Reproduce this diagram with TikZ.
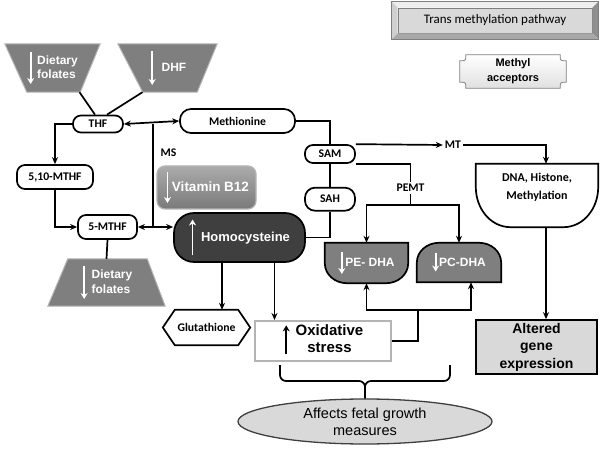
\documentclass[tikz,border=0pt]{standalone}
\usepackage{fontspec}
\setmainfont{Carlito}
\newfontfamily\arialfont{Liberation Sans}
\usetikzlibrary{arrows.meta, positioning, calc, shapes.geometric, backgrounds}
\definecolor{trapgray}{HTML}{7F7F7F}
\definecolor{rimgray}{HTML}{B4B4B4}
\definecolor{hcygray}{HTML}{3F3F3F}
\definecolor{boxgray}{HTML}{D9D9D9}
\definecolor{bevlight}{HTML}{EEEEEE}
\definecolor{bevside}{HTML}{CFCFCF}
\definecolor{bevdark}{HTML}{8F8F8F}
\definecolor{bevlow}{HTML}{A8A8A8}
\definecolor{btop}{HTML}{ABABAB}
\definecolor{bbot}{HTML}{7A7A7A}

\newcommand{\downarr}[2][white]{\tikz[baseline={([yshift=-0.6ex]current bounding box.center)}]
  \draw[-{Stealth[length=6pt,width=7pt]}, line width=1.8pt, #1] (0pt,0pt) -- (0pt,-#2);}
\newcommand{\uparr}[2][white]{\tikz[baseline={([yshift=-0.6ex]current bounding box.center)}]
  \draw[-{Stealth[length=6pt,width=7pt]}, line width=1.8pt, #1] (0pt,0pt) -- (0pt,#2);}

\begin{document}
\begin{tikzpicture}[x=1pt, y=1pt,
  every node/.style = {font=\fontsize{11.7}{13.5}\selectfont\bfseries, inner sep=2pt},
  pill/.style     = {rectangle, draw, fill=white, line width=1.7pt, rounded corners=#1},
  pill/.default   = 8pt,
  whitetxt/.style = {text=white, font=\arialfont\fontsize{12}{14.5}\selectfont\bfseries},
  trap/.style     = {fill=trapgray, draw=rimgray, line width=1pt},
  lipid/.style    = {fill=trapgray, draw=black, line width=1.7pt},
  cup/.style      = {fill=white, draw=black, line width=1.7pt},
  plaque/.style   = {top color=white, bottom color=black!12, draw=trapgray, line width=0.8pt},
  ln/.style       = {line width=1.7pt},
  arr/.style      = {-{Stealth[length=7pt,width=6pt]}, line width=1.7pt},
  arrboth/.style  = {{Stealth[length=7pt,width=6pt]}-{Stealth[length=7pt,width=6pt]}, line width=1.7pt}
]
\useasboundingbox (0,0) rectangle (600,-449);

% legend boxes
\node[minimum width=194pt, minimum height=25pt, fill=boxgray, draw=trapgray, line width=0.6pt,
      font=\fontsize{13}{15}\selectfont] (tmp) at (495,-20.5) {Trans methylation pathway};
\node[font=\arialfont\fontsize{11}{15}\selectfont\bfseries, minimum width=106pt,
      minimum height=33pt, align=center] (acc) at (513,-71.5) {Methyl\\acceptors};

% folate cycle
\node[whitetxt, minimum width=95pt, minimum height=48pt] (folA) at (52.5,-68)
  {\downarr{32pt}\hspace{3pt}\begin{tabular}{@{}l@{}}Dietary\\folates\end{tabular}};
\node[whitetxt, minimum width=99pt, minimum height=48pt] (dhf) at (167.5,-68)
  {\downarr{34pt}\hspace{6pt}DHF};
\node[pill, minimum width=50pt, minimum height=17pt] (thf) at (98,-124) {THF};
\node[pill, minimum width=76pt, minimum height=24pt] (mthfA) at (55,-177) {5,10-MTHF};
\node[pill, minimum width=59pt, minimum height=24pt] (mthfB) at (107.5,-227) {5-MTHF};
\node[whitetxt, minimum width=117pt, minimum height=47pt] (folB) at (106.5,-282.5)
  {\downarr{33pt}\hspace{4pt}\begin{tabular}{@{}l@{}}Dietary\\folates\end{tabular}};

% methionine cycle
\node[pill=11pt, minimum width=115pt, minimum height=24pt] (met) at (237.5,-121) {Methionine};
\node (ms) at (168.5,-153) {MS};
\node[font=\arialfont\fontsize{13.5}{16}\selectfont\bfseries, text=white, minimum width=99pt,
      minimum height=43pt, rounded corners=8pt, top color=btop, bottom color=bbot,
      draw=rimgray, line width=1.2pt] (b12) at (206.5,-187.5) {\downarr{31pt}\hspace{1pt}Vitamin B12};
\node[font=\arialfont\fontsize{13}{16}\selectfont\bfseries, text=white, fill=hcygray, draw=black,
      line width=1.7pt, rounded corners=20pt, minimum width=131pt, minimum height=49pt]
  (hcy) at (239.5,-237.5) {\uparr{36pt}\hspace{5pt}Homocysteine};
\node[pill, minimum width=50pt, minimum height=18pt] (sam) at (330,-154) {SAM};
\node[pill=10pt, minimum width=50pt, minimum height=23pt, below=23pt of sam] (sah) {SAH};

% methylation targets
\node (mt) at (453,-145) {MT};
\node (pemt) at (410.5,-188) {PEMT};
\node[font=\fontsize{12}{18}\selectfont\bfseries, minimum width=122pt, minimum height=47pt,
      align=center] (dna) at (537,-187.5) {DNA, Histone,\\Methylation};
\node[whitetxt, minimum width=83pt, minimum height=40pt] (pe) at (366.5,-263) {\downarr{22pt}PE- DHA};
\node[whitetxt, minimum width=84pt, minimum height=39pt] (pc) at (459,-262.5) {\downarr{18pt}PC-DHA};

% outcomes
\node[minimum width=87pt, minimum height=35pt] (glu) at (206.5,-327.5) {Glutathione};
\node[font=\arialfont\fontsize{15}{17}\selectfont\bfseries, fill=white, draw=rimgray, line width=2pt,
      minimum width=136pt, minimum height=40pt] (ox) at (323,-341)
  {\uparr[black]{29pt}\hspace{6pt}\begin{tabular}{@{}c@{}}Oxidative\\stress\end{tabular}};
\node[font=\arialfont\fontsize{14}{17.5}\selectfont\bfseries, fill=boxgray, draw=black, line width=1.7pt,
      inner sep=0pt, minimum width=121pt, minimum height=54pt, align=center]
  (alt) at (536.5,-347) {Altered\\gene\\expression};
\node[ellipse, fill=boxgray, draw=hcygray, line width=1.3pt, minimum width=254pt, minimum height=45pt,
      inner sep=0pt, font=\arialfont\fontsize{14.5}{17}\selectfont, align=center]
  (fx) at (365,-421.5) {Affects fetal growth\\measures};

% bevel of the legend box
\path[fill=bevlight] ([shift={(-6,6)}]tmp.north west) -- ([shift={(6,6)}]tmp.north east) -- (tmp.north east) -- (tmp.north west) -- cycle;
\path[fill=bevside] ([shift={(-6,6)}]tmp.north west) -- (tmp.north west) -- (tmp.south west) -- ([shift={(-6,-6)}]tmp.south west) -- cycle;
\path[fill=bevdark] ([shift={(6,6)}]tmp.north east) -- ([shift={(6,-6)}]tmp.south east) -- (tmp.south east) -- (tmp.north east) -- cycle;
\path[fill=bevlow] ([shift={(-6,-6)}]tmp.south west) -- (tmp.south west) -- (tmp.south east) -- ([shift={(6,-6)}]tmp.south east) -- cycle;
\draw[trapgray, line width=0.6pt] ([shift={(-6,6)}]tmp.north west) rectangle ([shift={(6,-6)}]tmp.south east);

\begin{scope}[on background layer]
  \path[trap] (folA.north west) -- (folA.north east) -- ([xshift=-20]folA.south east) -- ([xshift=22]folA.south west) -- cycle;
  \path[trap] (dhf.north west) -- (dhf.north east) -- ([xshift=-20]dhf.south east) -- ([xshift=25]dhf.south west) -- cycle;
  \path[trap] ([xshift=20]folB.north west) -- ([xshift=-18]folB.north east) -- (folB.south east) -- (folB.south west) -- cycle;
  \path[lipid] (pe.north west) -- (pe.north east) -- ([yshift=20]pe.south east) to[out=-90,in=0] ([xshift=-22]pe.south east)
    -- ([xshift=22]pe.south west) to[out=180,in=-90] ([yshift=20]pe.south west) -- cycle;
  \path[lipid] (pc.south west) -- (pc.south east) -- ([yshift=-20]pc.north east) to[out=90,in=0] ([xshift=-22]pc.north east)
    -- ([xshift=22]pc.north west) to[out=180,in=90] ([yshift=-20]pc.north west) -- cycle;
  \path[cup] (dna.north west) -- (dna.north east) -- ([yshift=24]dna.south east) to[out=-90,in=0] ([xshift=-35,yshift=-16]dna.south east)
    -- ([xshift=35,yshift=-16]dna.south west) to[out=180,in=-90] ([yshift=24]dna.south west) -- cycle;
  \path[cup] (glu.west) -- ([xshift=12]glu.north west) -- ([xshift=-12]glu.north east) -- (glu.east)
    -- ([xshift=-12]glu.south east) -- ([xshift=12]glu.south west) -- cycle;
  \path[plaque] ([xshift=6]acc.north west) -- ([xshift=-6]acc.north east)
    .. controls ([xshift=-6,yshift=-6]acc.north east) .. ([yshift=-6]acc.north east)
    -- ([yshift=6]acc.south east) .. controls ([xshift=-6,yshift=6]acc.south east) .. ([xshift=-6]acc.south east)
    -- ([xshift=6]acc.south west) .. controls ([xshift=6,yshift=6]acc.south west) .. ([yshift=6]acc.south west)
    -- ([yshift=-6]acc.north west) .. controls ([xshift=6,yshift=-6]acc.north west) .. ([xshift=6]acc.north west) -- cycle;
\end{scope}

% connectors
\draw[ln] ([xshift=27]folA.south) -- ([xshift=-3]thf.north);
\draw[ln] ([xshift=-25]dhf.south) -- ([xshift=9]thf.north);
\draw[arrboth] (thf.east) -- (met.west);
\coordinate (msT) at (153,-124);
\draw[ln] (msT) -- (msT |- mthfB.east);
\draw[arrboth] (mthfB.east) -- (mthfB.east -| hcy.west);
\draw[arr] (thf.west) -| (mthfA.north);
\draw[arr] (mthfA.south) |- (mthfB.west);
\draw[ln] (mthfB.south) -- (folB.north);
\draw[ln] (met.east) -| (sam.north);
\draw[ln] (sam.south) -- (sah.north);
\draw[ln] (sah.south) |- (hcy.east);
\draw[arr] (sam.north east) -- (mt.west);
\coordinate (dnaT) at ([xshift=9]dna.north);
\draw[arr] (mt.east) -| (dnaT);
\draw[ln] (sam.south east) -| (pemt.north);
\draw[arr] (pemt.south) -- ++(0,-11) -| (pe.north);
\draw[arr] (pemt.south) -- ++(0,-11) -| (pc.north);
\coordinate (oxJ) at (418,-310);
\draw[ln] (ox.east) -| (oxJ);
\draw[arr] (oxJ) -| (pe.south);
\draw[arr] (oxJ) -| ([xshift=12]pc.south);
\coordinate (hcyG) at ([xshift=-17.5]hcy.south);
\coordinate (hcyO) at ([xshift=35]hcy.south);
\draw[arr] (hcyG) -- (hcyG |- glu.north);
\draw[arr] (hcyO) -- (hcyO |- ox.north);
\coordinate (dnaB) at ([xshift=9,yshift=-16]dna.south);
\draw[arr] (dnaB) -- (dnaB |- alt.north);

% brace
\coordinate (brL) at (280,-365);
\coordinate (brR) at (450,-365);
\coordinate (brM) at (365,-381);
\draw[ln, rounded corners=6pt] (brL) |- (brM) -- (fx.north);
\draw[ln, rounded corners=6pt] (brR) |- (brM) -- (fx.north);
\end{tikzpicture}
\end{document}
